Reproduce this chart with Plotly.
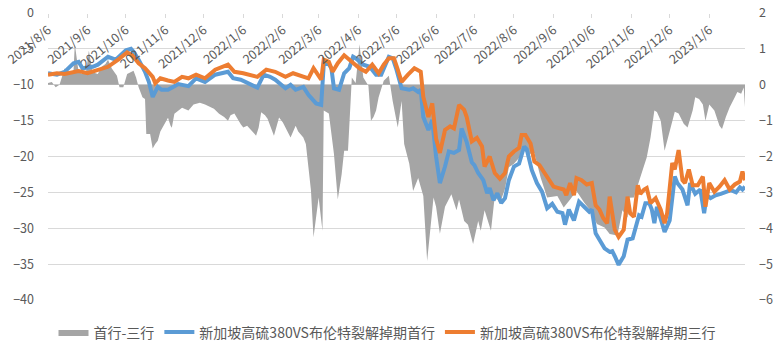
import plotly.graph_objects as go

# 首行-三行 spread (right axis)
spread_dates = [
    "2021-08-06", "2021-08-09", "2021-08-12", "2021-08-15", "2021-08-19", "2021-08-23", "2021-08-26",
    "2021-08-27", "2021-08-30", "2021-09-02", "2021-09-05", "2021-09-07", "2021-09-10", "2021-09-14",
    "2021-09-17", "2021-09-20", "2021-09-22", "2021-09-25", "2021-09-29", "2021-10-01", "2021-10-04",
    "2021-10-06", "2021-10-07", "2021-10-12", "2021-10-14", "2021-10-16", "2021-10-19", "2021-10-21",
    "2021-10-22", "2021-10-25", "2021-10-27", "2021-10-29", "2021-10-31", "2021-11-02", "2021-11-05",
    "2021-11-08", "2021-11-10", "2021-11-11", "2021-11-13", "2021-11-19", "2021-11-24", "2021-11-28",
    "2021-12-03", "2021-12-07", "2021-12-14", "2021-12-18", "2021-12-22", "2021-12-25", "2021-12-27",
    "2021-12-30", "2022-01-04", "2022-01-06", "2022-01-09", "2022-01-13", "2022-01-16", "2022-01-18",
    "2022-01-20", "2022-01-23", "2022-01-25", "2022-01-30", "2022-02-03", "2022-02-06", "2022-02-08",
    "2022-02-12", "2022-02-16", "2022-02-18", "2022-02-22", "2022-02-24", "2022-02-26", "2022-02-28",
    "2022-03-02", "2022-03-06", "2022-03-09", "2022-03-10", "2022-03-14", "2022-03-18", "2022-03-21",
    "2022-03-24", "2022-03-26", "2022-03-29", "2022-03-31", "2022-04-01", "2022-04-04", "2022-04-07",
    "2022-04-10", "2022-04-14", "2022-04-16", "2022-04-18", "2022-04-20", "2022-04-22", "2022-04-26",
    "2022-04-30", "2022-05-03", "2022-05-07", "2022-05-10", "2022-05-12", "2022-05-16", "2022-05-19",
    "2022-05-23", "2022-05-27", "2022-05-30", "2022-06-04", "2022-06-06", "2022-06-09", "2022-06-13",
    "2022-06-18", "2022-06-22", "2022-06-24", "2022-06-28", "2022-07-01", "2022-07-05", "2022-07-09",
    "2022-07-11", "2022-07-14", "2022-07-19", "2022-07-22", "2022-07-26", "2022-07-30", "2022-08-02",
    "2022-08-06", "2022-08-11", "2022-08-14", "2022-08-18", "2022-08-22", "2022-08-27", "2022-09-01",
    "2022-09-09", "2022-09-14", "2022-09-19", "2022-09-24", "2022-09-30", "2022-10-05", "2022-10-10",
    "2022-10-16", "2022-10-20", "2022-10-26", "2022-10-30", "2022-11-03", "2022-11-04", "2022-11-08",
    "2022-11-13", "2022-11-18", "2022-11-21", "2022-11-24", "2022-11-26", "2022-11-29", "2022-12-02",
    "2022-12-04", "2022-12-08", "2022-12-10", "2022-12-13", "2022-12-17", "2022-12-20", "2022-12-24",
    "2022-12-26", "2022-12-29", "2023-01-01", "2023-01-03", "2023-01-06", "2023-01-10", "2023-01-14",
    "2023-01-16", "2023-01-19", "2023-01-22", "2023-01-26", "2023-01-28", "2023-01-31", "2023-02-02",
    "2023-02-03",
]
spread_vals = [
    0.05, 0.08, -0.07, 0.0, 0.45, 0.35, 0.4,
    1.13, 0.35, 0.3, 0.4, 0.95, 0.35, 0.3,
    0.5, 0.58, 0.7, 0.45, 0.25, -0.07, -0.07,
    0.15, 0.3, 0.39, 0.2, -0.07, -0.35, -0.4,
    -1.37, -1.37, -1.78, -1.65, -1.56, -1.3, -1.09,
    -0.92, -1.14, -1.2, -0.81, -0.64, -0.72, -0.55,
    -0.5, -0.55, -0.67, -0.81, -0.9, -1.0, -0.85,
    -0.8, -1.1, -1.19, -1.14, -1.3, -1.42, -1.2,
    -0.77, -0.85, -0.95, -1.42, -0.91, -1.05, -1.19,
    -1.47, -1.14, -1.3, -1.47, -1.65, -2.3, -2.95,
    -4.25, -3.14, -4.07, -0.72, -0.8, -1.93, -3.2,
    -2.5, -1.84, -1.84, -0.5, 0.2, 0.05, 1.13,
    0.2, -0.03, -1.0, -0.9, -0.72, -0.35, 0.11,
    0.25, -0.45, -1.19, -0.45, -1.65, -2.2, -2.96,
    -2.6, -3.1, -4.91, -3.14, -3.4, -4.15, -3.4,
    -3.05, -3.5, -3.2, -3.8, -3.9, -4.44, -3.8,
    -4.07, -3.5, -4.07, -3.1, -3.3, -2.9, -2.3,
    -2.2, -2.0, -1.84, -1.93, -1.9, -2.6, -3.14,
    -3.1, -3.42, -3.2, -2.96, -3.28, -3.51, -3.88,
    -3.98, -4.16, -4.2, -3.5, -3.7, -3.15, -3.14,
    -2.58, -2.03, -1.47, -0.72, -0.76, -1.0, -1.84,
    -1.56, -1.0, -0.75, -0.8, -1.09, -1.19, -0.72,
    -0.35, -0.4, -0.55, -1.0, -0.55, -0.72, -1.14,
    -1.23, -0.9, -0.63, -0.35, -0.2, -0.25, -0.08,
    -0.63,
]

# 首行 crack swap (left axis)
m1_dates = [
    "2021-08-06", "2021-08-13", "2021-08-19", "2021-08-26", "2021-08-30", "2021-09-02", "2021-09-10",
    "2021-09-14", "2021-09-22", "2021-09-28", "2021-10-06", "2021-10-10", "2021-10-12", "2021-10-16",
    "2021-10-21", "2021-10-24", "2021-10-27", "2021-10-31", "2021-11-03", "2021-11-08", "2021-11-12",
    "2021-11-16", "2021-11-24", "2021-11-30", "2021-12-07", "2021-12-15", "2021-12-25", "2021-12-29",
    "2022-01-04", "2022-01-10", "2022-01-17", "2022-01-22", "2022-01-27", "2022-01-31", "2022-02-08",
    "2022-02-12", "2022-02-16", "2022-02-22", "2022-02-26", "2022-03-04", "2022-03-08", "2022-03-10",
    "2022-03-13", "2022-03-16", "2022-03-18", "2022-03-22", "2022-03-26", "2022-03-30", "2022-04-02",
    "2022-04-04", "2022-04-10", "2022-04-15", "2022-04-20", "2022-04-24", "2022-04-30", "2022-05-03",
    "2022-05-06", "2022-05-10", "2022-05-16", "2022-05-19", "2022-05-23", "2022-05-25", "2022-05-27",
    "2022-05-31", "2022-06-03", "2022-06-06", "2022-06-09", "2022-06-13", "2022-06-16", "2022-06-20",
    "2022-06-24", "2022-06-26", "2022-06-30", "2022-07-04", "2022-07-06", "2022-07-09", "2022-07-13",
    "2022-07-16", "2022-07-18", "2022-07-21", "2022-07-24", "2022-07-27", "2022-07-30", "2022-08-02",
    "2022-08-06", "2022-08-10", "2022-08-14", "2022-08-16", "2022-08-20", "2022-08-24", "2022-08-28",
    "2022-09-01", "2022-09-05", "2022-09-09", "2022-09-13", "2022-09-15", "2022-09-18", "2022-09-22",
    "2022-09-26", "2022-09-30", "2022-10-04", "2022-10-06", "2022-10-09", "2022-10-12", "2022-10-16",
    "2022-10-20", "2022-10-22", "2022-10-24", "2022-10-27", "2022-10-31", "2022-11-03", "2022-11-07",
    "2022-11-09", "2022-11-12", "2022-11-14", "2022-11-17", "2022-11-20", "2022-11-22", "2022-11-24",
    "2022-11-26", "2022-11-30", "2022-12-02", "2022-12-06", "2022-12-08", "2022-12-10", "2022-12-12",
    "2022-12-16", "2022-12-20", "2022-12-22", "2022-12-26", "2022-12-30", "2023-01-02", "2023-01-04",
    "2023-01-07", "2023-01-11", "2023-01-15", "2023-01-19", "2023-01-23", "2023-01-27", "2023-01-30",
    "2023-02-01", "2023-02-03",
]
m1_vals = [
    -8.4, -8.6, -8.2, -7.0, -6.8, -7.7, -7.5,
    -7.2, -6.1, -6.5, -5.2, -5.0, -5.4, -6.5,
    -8.2, -9.6, -11.7, -10.3, -10.7, -10.7, -10.3,
    -9.9, -10.2, -9.1, -9.6, -8.6, -8.2, -9.1,
    -9.3, -9.8, -10.4, -8.6, -8.9, -9.3, -10.5,
    -10.0, -10.7, -10.3, -11.4, -12.6, -12.8, -7.2,
    -6.9, -7.7, -10.5, -10.7, -8.4, -7.7, -6.1,
    -6.3, -7.2, -7.5, -8.6, -8.6, -6.1, -6.3,
    -7.9, -10.5, -10.7, -10.5, -11.0, -10.7, -14.5,
    -16.3, -14.9, -20.0, -23.7, -21.4, -19.3, -19.5,
    -19.1, -16.1, -18.0, -20.8, -21.2, -22.3, -23.3,
    -25.1, -24.4, -26.1, -25.1, -26.5, -25.8, -23.3,
    -21.4, -21.0, -18.6, -19.0, -21.9, -23.7, -24.9,
    -27.2, -26.6, -27.7, -27.9, -29.5, -27.4, -28.9,
    -26.3, -27.0, -27.7, -27.4, -30.7, -31.6, -32.8,
    -33.3, -33.2, -33.9, -35.1, -33.9, -31.6, -31.4,
    -30.2, -28.2, -28.4, -26.5, -26.5, -27.4, -29.3,
    -27.0, -29.3, -30.5, -28.9, -26.1, -22.8, -23.7,
    -24.6, -26.8, -23.7, -25.2, -24.6, -27.9, -25.4,
    -25.8, -25.4, -25.2, -25.0, -24.7, -25.0, -24.3,
    -24.6, -24.2,
]

# 三行 crack swap (left axis)
m3_dates = [
    "2021-08-06", "2021-08-13", "2021-08-19", "2021-08-30", "2021-09-06", "2021-09-14", "2021-09-22",
    "2021-09-30", "2021-10-07", "2021-10-11", "2021-10-16", "2021-10-21", "2021-10-27", "2021-10-29",
    "2021-11-02", "2021-11-08", "2021-11-13", "2021-11-19", "2021-11-24", "2021-11-30", "2021-12-07",
    "2021-12-15", "2021-12-25", "2021-12-30", "2022-01-06", "2022-01-17", "2022-01-24", "2022-01-31",
    "2022-02-08", "2022-02-14", "2022-02-22", "2022-02-26", "2022-03-02", "2022-03-08", "2022-03-10",
    "2022-03-14", "2022-03-17", "2022-03-21", "2022-03-26", "2022-03-30", "2022-04-03", "2022-04-07",
    "2022-04-12", "2022-04-17", "2022-04-22", "2022-04-26", "2022-04-30", "2022-05-04", "2022-05-07",
    "2022-05-10", "2022-05-15", "2022-05-20", "2022-05-25", "2022-05-27", "2022-05-31", "2022-06-03",
    "2022-06-06", "2022-06-09", "2022-06-13", "2022-06-17", "2022-06-20", "2022-06-24", "2022-06-28",
    "2022-06-30", "2022-07-04", "2022-07-08", "2022-07-12", "2022-07-14", "2022-07-18", "2022-07-22",
    "2022-07-26", "2022-07-30", "2022-08-02", "2022-08-06", "2022-08-10", "2022-08-12", "2022-08-15",
    "2022-08-19", "2022-08-22", "2022-08-26", "2022-08-30", "2022-09-03", "2022-09-06", "2022-09-10",
    "2022-09-14", "2022-09-16", "2022-09-19", "2022-09-22", "2022-09-24", "2022-09-28", "2022-10-02",
    "2022-10-06", "2022-10-09", "2022-10-12", "2022-10-15", "2022-10-18", "2022-10-20", "2022-10-24",
    "2022-10-27", "2022-10-31", "2022-11-03", "2022-11-05", "2022-11-08", "2022-11-11", "2022-11-13",
    "2022-11-16", "2022-11-18", "2022-11-21", "2022-11-25", "2022-11-29", "2022-12-02", "2022-12-04",
    "2022-12-06", "2022-12-08", "2022-12-10", "2022-12-13", "2022-12-16", "2022-12-18", "2022-12-21",
    "2022-12-24", "2022-12-28", "2023-01-01", "2023-01-03", "2023-01-06", "2023-01-10", "2023-01-14",
    "2023-01-18", "2023-01-22", "2023-01-26", "2023-01-30", "2023-02-01", "2023-02-03",
]
m3_vals = [
    -8.6, -8.4, -8.5, -8.1, -8.4, -7.9, -7.5,
    -6.5, -5.5, -5.9, -7.0, -7.7, -8.9, -9.8,
    -9.1, -9.4, -9.6, -8.9, -9.1, -8.6, -9.1,
    -7.9, -7.2, -8.2, -8.4, -8.9, -7.9, -8.2,
    -8.9, -8.4, -8.9, -9.1, -7.7, -9.3, -6.5,
    -6.8, -8.2, -7.0, -5.9, -6.5, -7.0, -7.7,
    -8.2, -7.2, -8.4, -7.2, -6.3, -6.3, -7.9,
    -9.6, -8.6, -7.7, -8.2, -11.7, -14.5, -12.6,
    -17.5, -19.5, -16.3, -15.8, -16.1, -12.8, -13.5,
    -14.5, -17.9, -17.4, -18.6, -21.4, -20.0, -22.3,
    -23.1, -22.3, -20.0, -19.3, -18.8, -17.0, -17.0,
    -18.2, -20.7, -21.2, -22.3, -23.5, -24.2, -24.4,
    -24.6, -25.4, -23.7, -25.4, -23.0, -23.3, -23.9,
    -23.7, -26.8, -27.4, -28.6, -29.3, -25.6, -30.2,
    -31.2, -30.2, -25.6, -27.9, -28.4, -24.0, -25.2,
    -24.6, -24.4, -26.5, -25.8, -27.4, -29.3, -27.9,
    -24.6, -20.9, -21.8, -19.1, -23.3, -23.7, -21.8,
    -24.0, -24.0, -22.8, -27.0, -23.7, -24.9, -24.2,
    -23.3, -24.6, -23.9, -23.5, -22.1, -23.3,
]

FONT = "Noto Sans CJK SC"
TEXT = "#595959"
GRID = "#D9D9D9"

fig = go.Figure()

# spread area on the base axis so it sits beneath the two lines
fig.add_trace(go.Scatter(
    x=spread_dates, y=spread_vals, name="首行-三行",
    mode="lines", line=dict(width=0, color="#A5A5A5"),
    fill="tozeroy", fillcolor="#A5A5A5", yaxis="y",
))
fig.add_trace(go.Scatter(
    x=m1_dates, y=m1_vals, name="新加坡高硫380VS布伦特裂解掉期首行",
    mode="lines", line=dict(color="#5B9BD5", width=4), yaxis="y2",
))
fig.add_trace(go.Scatter(
    x=m3_dates, y=m3_vals, name="新加坡高硫380VS布伦特裂解掉期三行",
    mode="lines", line=dict(color="#ED7D31", width=4), yaxis="y2",
))

fig.update_layout(
    width=774, height=341,
    margin=dict(l=48, r=29, t=13, b=41),
    paper_bgcolor="white", plot_bgcolor="white",
    font=dict(family=FONT, color=TEXT, size=12),
    showlegend=True,
    legend=dict(
        orientation="h", xref="container", yref="container",
        x=0.5, xanchor="center", y=0.025, yanchor="middle",
        font=dict(size=14, color=TEXT, family=FONT),
        itemwidth=30, bgcolor="rgba(0,0,0,0)",
    ),
    xaxis=dict(
        type="date", range=["2021-08-06", "2023-02-03"],
        anchor="free", position=1, side="bottom",
        tick0="2021-08-06", dtick="M1", tickformat="%Y/%-m/%-d",
        tickangle=-40, ticks="outside", ticklen=4, tickcolor=GRID,
        showgrid=False, showline=False, zeroline=False,
        tickfont=dict(size=12.5, color=TEXT), automargin=False,
    ),
    yaxis=dict(
        range=[-6, 2], dtick=1, side="right",
        showgrid=True, gridcolor=GRID, gridwidth=1, zeroline=False,
        showline=False, ticks="", ticklabelstandoff=13,
        tickfont=dict(size=12.5, color=TEXT), automargin=False,
    ),
    yaxis2=dict(
        range=[-40, 0], dtick=5, side="left", overlaying="y",
        showgrid=False, zeroline=False, showline=False, ticks="",
        ticklabelstandoff=13,
        tickfont=dict(size=12.5, color=TEXT), automargin=False,
    ),
)

fig.write_html("out.html")
